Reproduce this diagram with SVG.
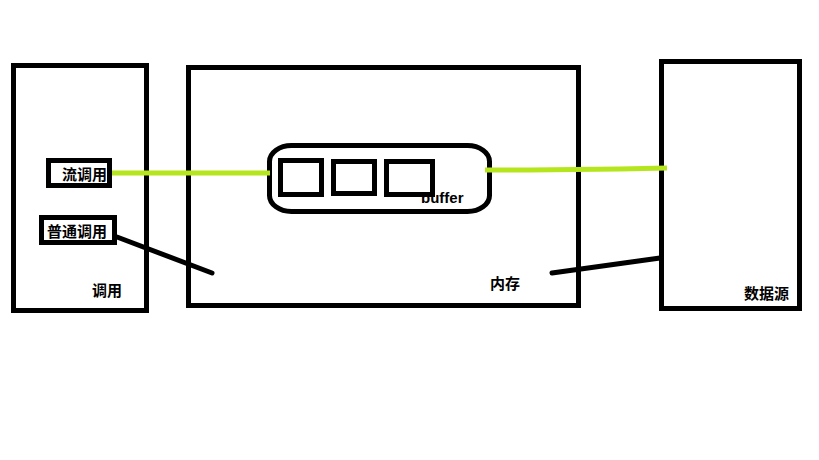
<svg xmlns="http://www.w3.org/2000/svg" width="819" height="460" viewBox="0 0 819 460">
<style>
.box{fill:none;stroke:#000;stroke-width:5}
.lbl{font-family:"Noto Sans CJK SC","Liberation Sans",sans-serif;font-size:15px;font-weight:bold;fill:#000}
.green{stroke:#b5e61d;stroke-width:5;fill:none}
.black{stroke:#000;stroke-width:5;fill:none;stroke-linecap:round}
</style>
<rect width="819" height="460" fill="#fff"/>
<g id="caller">
<rect class="box" x="13.5" y="65.5" width="133" height="245"/>
<text class="lbl" x="92" y="296">调用</text>
</g>
<g id="stream-call">
<rect class="box" x="48.5" y="160.5" width="61" height="25"/>
<text class="lbl" x="62" y="180">流调用</text>
</g>
<g id="normal-call">
<rect class="box" x="41.5" y="217.5" width="73" height="25"/>
<text class="lbl" x="47" y="237">普通调用</text>
</g>
<g id="memory">
<rect class="box" x="188.5" y="67.5" width="390" height="238"/>
<text class="lbl" x="490" y="289">内存</text>
</g>
<g id="buffer">
<rect class="box" x="269.5" y="145.5" width="220" height="66" rx="22" ry="16"/>
<rect class="box" x="280.5" y="160.5" width="41" height="34"/>
<rect class="box" x="333.5" y="161.5" width="41" height="32"/>
<rect class="box" x="386.5" y="161.5" width="46" height="33"/>
<text x="421" y="203" style="font-family:'Liberation Sans',sans-serif;font-size:15px;font-weight:bold;fill:#000">buffer</text>
</g>
<g id="datasource">
<rect class="box" x="661.5" y="61.5" width="138" height="247"/>
<text class="lbl" x="744" y="299">数据源</text>
</g>
<g id="connectors">
<line class="green" x1="112" y1="173" x2="270" y2="173"/>
<polyline class="green" points="485,170 530,170 620,169 667,168"/>
<line class="black" x1="117" y1="237" x2="212" y2="273"/>
<line class="black" x1="552" y1="273" x2="660" y2="258"/>
</g>
</svg>
